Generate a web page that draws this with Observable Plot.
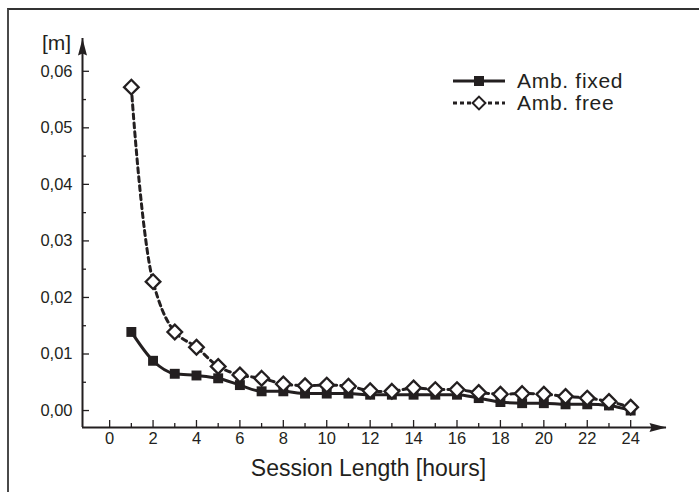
<!DOCTYPE html>
<html><head><meta charset="utf-8">
<script src="https://cdn.jsdelivr.net/npm/d3@7"></script>
<script src="https://cdn.jsdelivr.net/npm/@observablehq/plot@0.6"></script>
<style>
body{margin:0;background:#fff;}
#wrap{position:relative;width:699px;height:492px;overflow:hidden;font-family:"Liberation Sans",Arial,sans-serif;color:#231f20;}
#frame{position:absolute;left:7px;top:8px;width:760px;height:560px;border-left:2px solid #4a4a4a;border-top:2px solid #333;box-sizing:border-box;}
#chart{position:absolute;left:0;top:0;}
#legend{position:absolute;left:0;top:0;pointer-events:none;}
</style></head>
<body>
<div id="wrap"><div id="frame"></div><div id="chart"></div><svg id="legend" width="699" height="492"></svg></div>
<script>
// ---- data ----
const hours = [1,2,3,4,5,6,7,8,9,10,11,12,13,14,15,16,17,18,19,20,21,22,23,24];
const ambFixed = [0.0139,0.0088,0.0065,0.0062,0.0057,0.0045,0.0034,0.0034,0.0030,0.0030,0.0030,0.0028,0.0028,0.0028,0.0028,0.0028,0.0022,0.0015,0.0013,0.0013,0.0011,0.0011,0.0009,0.0000];
const ambFree  = [0.0572,0.0228,0.0139,0.0112,0.0078,0.0063,0.0057,0.0047,0.0044,0.0045,0.0043,0.0035,0.0034,0.0040,0.0037,0.0037,0.0032,0.0029,0.0030,0.0029,0.0025,0.0022,0.0016,0.0006];
const seriesNames = ["Amb. fixed", "Amb. free"];
const yTicks = [0, 0.01, 0.02, 0.03, 0.04, 0.05, 0.06];
const yTickLabels = ["0,00","0,01","0,02","0,03","0,04","0,05","0,06"];
const yMinorTicks = [0.005, 0.015, 0.025, 0.035, 0.045, 0.055];
const xTicks = [0,2,4,6,8,10,12,14,16,18,20,22,24];
const xMinorTicks = [1,3,5,7,9,11,13,15,17,19,21,23];
const xTitle = "Session Length [hours]";
const yTitle = "[m]";
const xDomain = [-1.25, 25.65];
const yDomain = [-0.003, 0.0658];

const ink = "#231f20";
const rows = hours.map((h, i) => ({h, fixed: ambFixed[i], free: ambFree[i]}));

const arrowUp = {draw(ctx){ ctx.moveTo(0,0); ctx.lineTo(4.5,17); ctx.lineTo(0,15); ctx.lineTo(-4.5,17); ctx.closePath(); }};
const arrowRight = {draw(ctx){ ctx.moveTo(0,0); ctx.lineTo(-17,-4.5); ctx.lineTo(-15,0); ctx.lineTo(-17,4.5); ctx.closePath(); }};

const chart = Plot.plot({
  width: 699, height: 492,
  marginLeft: 82, marginRight: 33, marginTop: 38, marginBottom: 65,
  style: {fontFamily: '"Liberation Sans", Arial, sans-serif', color: ink, background: "transparent"},
  x: {domain: xDomain},
  y: {domain: yDomain},
  marks: [
    Plot.ruleX([{x: xDomain[0]}], {x: "x", y1: yDomain[0], y2: yDomain[1], stroke: ink, strokeWidth: 2}),
    Plot.ruleY([{y: yDomain[0]}], {y: "y", x1: xDomain[0], x2: xDomain[1], stroke: ink, strokeWidth: 2}),
    Plot.dot([{x: xDomain[0], y: yDomain[1]}], {x: "x", y: "y", symbol: arrowUp, fill: ink, stroke: "none"}),
    Plot.dot([{x: xDomain[1], y: yDomain[0]}], {x: "x", y: "y", symbol: arrowRight, fill: ink, stroke: "none"}),
    Plot.axisY(yTicks, {anchor: "left", tickSize: -7, tickPadding: 17, strokeWidth: 1.3, fontSize: 16.5,
      tickFormat: d => yTickLabels[yTicks.indexOf(d)], label: null, style: {letterSpacing: "0.8px"}}),
    Plot.axisY(yMinorTicks, {anchor: "left", tickSize: -4, strokeWidth: 1.3, tickFormat: () => "", label: null}),
    Plot.axisX(xTicks, {anchor: "bottom", tickSize: -7, tickPadding: 12, strokeWidth: 1.3, fontSize: 16.5,
      tickFormat: d => String(d), label: null}),
    Plot.axisX(xMinorTicks, {anchor: "bottom", tickSize: -4, strokeWidth: 1.3, tickFormat: () => "", label: null}),
    Plot.text([xTitle], {frameAnchor: "bottom", dx: -6, dy: 41, fontSize: 23, fill: ink, lineAnchor: "middle"}),
    Plot.text([yTitle], {frameAnchor: "top-left", dx: -26, dy: 5, fontSize: 21, fill: ink, textAnchor: "middle", lineAnchor: "middle"}),
    Plot.line(rows, {x: "h", y: "fixed", curve: "monotone-x", stroke: ink, strokeWidth: 3}),
    Plot.line(rows, {x: "h", y: "free", curve: "catmull-rom", stroke: ink, strokeWidth: 3, strokeDasharray: "5,4"}),
    Plot.dot(rows, {x: "h", y: "fixed", symbol: "square", r: 5.6, fill: ink, stroke: "none"}),
    Plot.dot(rows, {x: "h", y: "free", symbol: "diamond2", r: 6.6, fill: "white", stroke: ink, strokeWidth: 2.3})
  ]
});
document.getElementById("chart").appendChild(chart);

// ---- legend ----
const lg = d3.select("#legend");
const items = [
  {name: seriesNames[0], dash: null, y: 81, symbol: d3.symbolSquare, size: 100, fill: ink, sw: 0},
  {name: seriesNames[1], dash: "4,3", y: 103, symbol: d3.symbolDiamond2, size: 105, fill: "white", sw: 2}
];
items.forEach(it => {
  lg.append("line").attr("x1", 453).attr("x2", 505).attr("y1", it.y).attr("y2", it.y)
    .attr("stroke", ink).attr("stroke-width", 3).attr("stroke-dasharray", it.dash);
  lg.append("path").attr("d", d3.symbol(it.symbol, it.size)()).attr("transform", `translate(479,${it.y})`)
    .attr("fill", it.fill).attr("stroke", it.sw ? ink : "none").attr("stroke-width", it.sw);
  lg.append("text").attr("x", 517).attr("y", it.y + 7).text(it.name)
    .attr("font-family", '"Liberation Sans", Arial, sans-serif').attr("font-size", 21)
    .attr("letter-spacing", "0.7px").attr("fill", ink);
});
</script>
</body></html>
